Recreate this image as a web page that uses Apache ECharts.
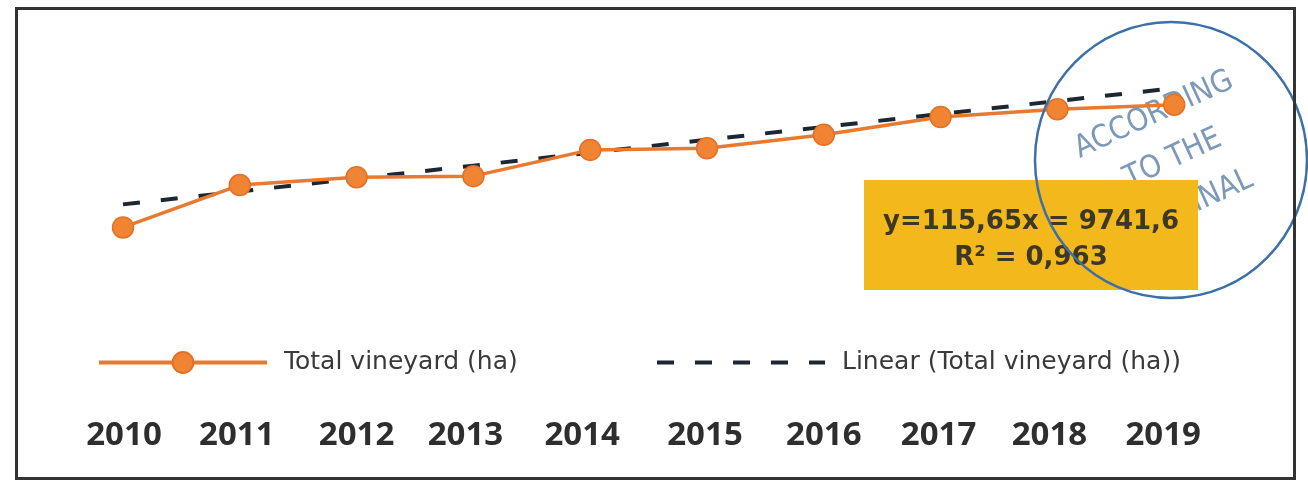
<!DOCTYPE html>
<html>
<head>
<meta charset="utf-8">
<script src="https://cdn.jsdelivr.net/npm/echarts@6/dist/echarts.min.js"></script>
<style>
html,body{margin:0;padding:0;background:#fff;}
#chart{width:1308px;height:483px;}
</style>
</head>
<body>
<div id="chart"></div>
<script>
// ---- data ----
const years = ['2010','2011','2012','2013','2014','2015','2016','2017','2018','2019'];
const vineyardHa = [9650, 10030, 10100, 10110, 10345, 10360, 10480, 10640, 10710, 10750];
const trendHa = [9857, 9973, 10089, 10204, 10320, 10436, 10551, 10667, 10783, 10898];
const seriesName = 'Total vineyard (ha)';
const trendName = 'Linear (Total vineyard (ha))';
const equationLines = ['y=115,65x = 9741,6', 'R\u00B2 = 0,963'];
const stampLines = ['ACCORDING', 'TO THE', 'ORIGINAL'];

// label nudges (px) so year labels sit like in the scan
const labelShift = [1, -3, 0, -8, -8, -2, 0, -2, -8, -11];

const legendFont = '25px "DejaVu Sans"';
const legendLeft = 92, legendItemW = 168, legendTextPad = 12, secondItemLeft = 648;
const cv = document.createElement('canvas').getContext('2d');
cv.font = legendFont;
const firstTextW = cv.measureText(seriesName).width;
const legendGap = secondItemLeft - (legendLeft + legendItemW + 5 + legendTextPad + firstTextW);

const chart = echarts.init(document.getElementById('chart'));
const rich = {};
labelShift.forEach((s, i) => {
  rich['s' + i] = {
    fontFamily: 'Noto Sans', fontWeight: 'bold', fontSize: 33, color: '#2e2e2e',
    padding: s < 0 ? [0, -2 * s, 0, 0] : [0, 0, 0, 2 * s]
  };
});

const stampFont = '31px "DejaVu Sans Condensed", "DejaVu Sans", sans-serif';

const option = {
  animation: false,
  backgroundColor: '#ffffff',
  grid: { left: 64.6, right: 75.4, top: 40, height: 260 },
  xAxis: {
    type: 'category',
    data: years,
    boundaryGap: true,
    axisLine: { show: false },
    axisTick: { show: false },
    splitLine: { show: false },
    axisLabel: {
      margin: 119,
      interval: 0,
      lineHeight: 34,
      formatter: (v, i) => '{s' + i + '|' + v + '}',
      rich: rich
    }
  },
  yAxis: {
    type: 'value',
    min: 9000, max: 11330,
    show: false,
    splitLine: { show: false }
  },
  legend: {
    left: legendLeft, top: 345,
    itemWidth: legendItemW, itemHeight: 26,
    itemGap: legendGap,
    selectedMode: false,
    textStyle: { fontFamily: 'DejaVu Sans', fontSize: 25, color: '#3a3a3a', padding: [0, 0, 0, legendTextPad] },
    data: [
      { name: seriesName, lineStyle: { width: 4 } },
      { name: trendName, lineStyle: { width: 4 }, itemStyle: { opacity: 0 } }
    ]
  },
  series: [
    {
      name: seriesName,
      type: 'line',
      data: vineyardHa,
      symbol: 'circle',
      symbolSize: 21,
      z: 3,
      lineStyle: { color: '#E8792F', width: 3.5 },
      itemStyle: { color: '#F08433', borderColor: '#E27128', borderWidth: 1.5 }
    },
    {
      name: trendName,
      type: 'line',
      data: trendHa,
      symbol: 'none',
      z: 2,
      lineStyle: { color: '#1d2633', width: 4, type: [17, 21] },
      itemStyle: { color: '#1d2633' }
    }
  ],
  graphic: [
    // scan border
    { type: 'rect', z: 50, shape: { x: 16.5, y: 8.5, width: 1278, height: 470 },
      style: { fill: 'none', stroke: '#333', lineWidth: 3 } },
    // stamp text (under the box)
    { type: 'text', z: 1, x: 1154, y: 115, rotation: 0.43,
      style: { text: stampLines[0], font: stampFont, fill: '#7d99ba', align: 'center', verticalAlign: 'middle' } },
    { type: 'text', z: 1, x: 1173, y: 159, rotation: 0.43,
      style: { text: stampLines[1], font: stampFont, fill: '#7d99ba', align: 'center', verticalAlign: 'middle' } },
    { type: 'text', z: 1, x: 1190, y: 206, rotation: 0.43,
      style: { text: stampLines[2], font: stampFont, fill: '#7d99ba', align: 'center', verticalAlign: 'middle' } },
    // equation box
    { type: 'rect', z: 10, shape: { x: 864, y: 180, width: 334, height: 110 },
      style: { fill: '#F3B81C' } },
    { type: 'text', z: 11, x: 1031, y: 222,
      style: { text: equationLines[0], font: 'bold 26px "DejaVu Sans"', fill: '#3d3826', align: 'center', verticalAlign: 'middle' } },
    { type: 'text', z: 11, x: 1031, y: 258,
      style: { text: equationLines[1], font: 'bold 26px "DejaVu Sans"', fill: '#3d3826', align: 'center', verticalAlign: 'middle' } },
    // stamp circle
    { type: 'ellipse', z: 20, shape: { cx: 1171, cy: 160, rx: 136, ry: 138 },
      style: { fill: 'none', stroke: '#3e70a8', lineWidth: 2.5 } }
  ]
};
chart.setOption(option);
</script>
</body>
</html>
